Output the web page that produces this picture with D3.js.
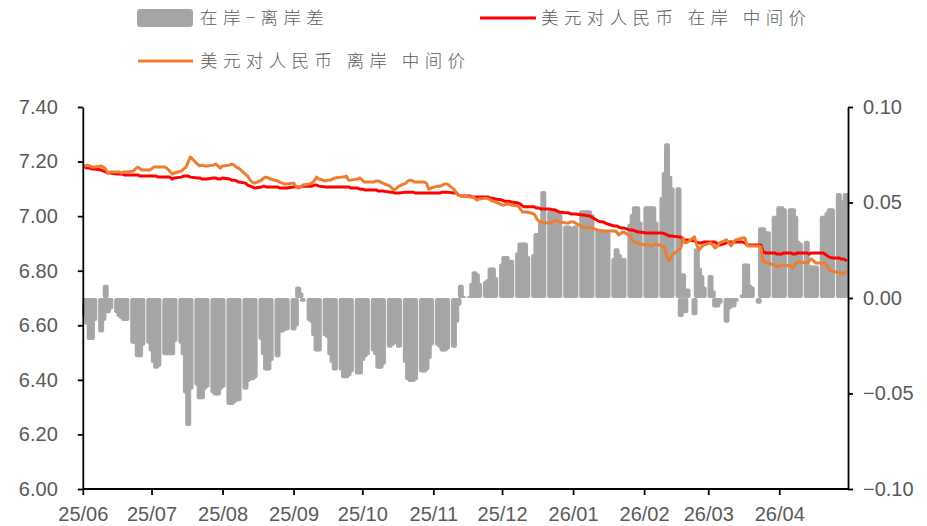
<!DOCTYPE html>
<html><head><meta charset="utf-8">
<script src="https://cdn.jsdelivr.net/npm/d3@7/dist/d3.min.js"></script>
<style>
html,body{margin:0;padding:0;background:#fff;}
svg{display:block;}
</style></head>
<body>
<svg id="chart" width="927" height="526"></svg>
<script>
// ---- DATA (trading days: weekdays 2025-06-02 .. 2026-04-30) ----
const firstDay = "2025-06-02";
const lastDay = "2026-04-30";

// 在岸−离岸差 (right axis)
const spread = [
 -0.010,-0.014,-0.022,-0.022,-0.012,
 -0.018,-0.012,0.007,-0.008,-0.006,
 -0.008,-0.010,-0.011,-0.012,-0.012,
 -0.024,-0.024,-0.031,-0.031,-0.025,
 -0.024,-0.028,-0.034,-0.037,-0.036,
 -0.030,-0.030,-0.030,-0.030,-0.023,
 -0.024,-0.030,-0.050,-0.067,-0.048,
 -0.046,-0.053,-0.053,-0.048,-0.047,
 -0.050,-0.051,-0.051,-0.048,-0.047,
 -0.056,-0.056,-0.055,-0.054,-0.054,
 -0.048,-0.044,-0.043,-0.043,-0.042,
 -0.022,-0.030,-0.038,-0.038,-0.033,
 -0.031,-0.018,-0.018,-0.017,-0.017,
 -0.017,-0.015,0.006,0.003,-0.002,
 -0.012,-0.013,-0.020,-0.028,-0.028,
 -0.020,-0.021,-0.030,-0.034,-0.038,
 -0.038,-0.042,-0.042,-0.041,-0.039,
 -0.040,-0.040,-0.033,-0.031,-0.030,
 -0.028,-0.030,-0.037,-0.037,-0.035,
 -0.026,-0.025,-0.021,-0.024,-0.026,
 -0.034,-0.043,-0.044,-0.044,-0.043,
 -0.039,-0.039,-0.038,-0.032,-0.025,
 -0.025,-0.026,-0.028,-0.028,-0.027,
 -0.026,-0.013,-0.004,0.007,0.001,
 0.001,0.008,0.014,0.013,0.008,
 0.009,0.010,0.016,0.016,0.011,
 0.018,0.022,0.022,0.020,0.020,
 0.024,0.029,0.029,0.029,0.022,
 0.023,0.034,0.034,0.040,0.056,
 0.046,0.046,0.046,0.045,0.045,
 0.038,0.038,0.037,0.037,0.038,
 0.046,0.046,0.046,0.046,0.044,
 0.036,0.036,0.036,0.035,0.035,
 0.021,0.026,0.023,0.021,0.021,
 0.039,0.044,0.048,0.048,0.040,
 0.048,0.048,0.048,0.048,0.040,
 0.053,0.066,0.081,0.064,0.058,
 0.058,-0.010,0.013,-0.008,0.005,
 -0.009,0.026,0.016,0.012,0.006,
 0.012,0.004,-0.005,-0.005,-0.003,
 -0.013,-0.006,-0.005,-0.005,-0.002,
 0.002,0.018,0.018,0.007,0.006,
 -0.003,0.037,0.037,0.035,0.035,
 0.043,0.043,0.048,0.048,0.047,
 0.047,0.047,0.043,0.030,0.029,
 0.030,0.017,0.017,0.017,0.017,
 0.043,0.043,0.045,0.047,0.047,
 0.055,0.051,0.051,0.055
];

// 美元对人民币 在岸 中间价 (left axis)
const onshore = [
 7.180,7.176,7.176,7.173,7.173,
 7.169,7.165,7.162,7.158,7.158,
 7.154,7.154,7.154,7.151,7.151,
 7.151,7.151,7.151,7.147,7.147,
 7.147,7.147,7.147,7.147,7.143,
 7.143,7.143,7.143,7.136,7.140,
 7.143,7.147,7.147,7.147,7.143,
 7.140,7.140,7.136,7.136,7.136,
 7.140,7.140,7.136,7.136,7.140,
 7.136,7.132,7.132,7.129,7.125,
 7.121,7.114,7.110,7.107,7.103,
 7.107,7.110,7.107,7.107,7.107,
 7.107,7.103,7.103,7.103,7.103,
 7.107,7.107,7.107,7.107,7.110,
 7.110,7.110,7.114,7.114,7.110,
 7.107,7.107,7.107,7.107,7.107,
 7.107,7.107,7.107,7.107,7.103,
 7.103,7.099,7.099,7.096,7.096,
 7.096,7.096,7.092,7.092,7.092,
 7.088,7.088,7.085,7.085,7.085,
 7.088,7.088,7.088,7.088,7.085,
 7.085,7.085,7.085,7.085,7.085,
 7.085,7.085,7.088,7.088,7.088,
 7.085,7.085,7.077,7.074,7.074,
 7.074,7.070,7.070,7.070,7.070,
 7.070,7.070,7.066,7.066,7.063,
 7.059,7.055,7.055,7.055,7.052,
 7.048,7.044,7.037,7.034,7.034,
 7.034,7.030,7.030,7.026,7.026,
 7.026,7.023,7.023,7.019,7.015,
 7.012,7.012,7.008,7.008,7.008,
 7.004,7.004,7.001,7.001,6.997,
 6.982,6.979,6.979,6.975,6.971,
 6.964,6.964,6.960,6.957,6.957,
 6.949,6.949,6.946,6.942,6.942,
 6.938,6.938,6.938,6.938,6.938,
 6.938,6.935,6.931,6.927,6.927,
 6.924,6.924,6.913,6.913,6.913,
 6.909,6.905,6.902,6.902,6.905,
 6.905,6.905,6.905,6.898,6.894,
 6.902,6.905,6.905,6.905,6.905,
 6.905,6.902,6.894,6.894,6.894,
 6.894,6.894,6.869,6.865,6.865,
 6.865,6.861,6.861,6.861,6.865,
 6.865,6.861,6.861,6.865,6.865,
 6.865,6.861,6.865,6.865,6.865,
 6.865,6.861,6.854,6.850,6.847,
 6.847,6.843,6.843,6.839
];

// 美元对人民币 离岸 中间价 (left axis)
const offshore = [
 7.184,7.187,7.184,7.180,7.180,
 7.184,7.180,7.173,7.158,7.162,
 7.162,7.162,7.158,7.162,7.162,
 7.165,7.173,7.180,7.173,7.169,
 7.169,7.173,7.180,7.180,7.180,
 7.180,7.173,7.165,7.154,7.158,
 7.165,7.173,7.180,7.198,7.217,
 7.191,7.184,7.187,7.184,7.184,
 7.187,7.191,7.184,7.176,7.184,
 7.187,7.191,7.187,7.180,7.176,
 7.154,7.147,7.132,7.125,7.121,
 7.132,7.140,7.143,7.140,7.136,
 7.129,7.125,7.121,7.118,7.118,
 7.121,7.110,7.103,7.107,7.114,
 7.118,7.121,7.129,7.143,7.136,
 7.129,7.132,7.132,7.136,7.140,
 7.143,7.143,7.147,7.132,7.132,
 7.136,7.140,7.132,7.125,7.125,
 7.125,7.129,7.129,7.125,7.121,
 7.110,7.103,7.096,7.103,7.110,
 7.121,7.129,7.132,7.129,7.125,
 7.125,7.125,7.121,7.099,7.103,
 7.110,7.110,7.114,7.118,7.118,
 7.099,7.085,7.077,7.074,7.074,
 7.070,7.070,7.066,7.059,7.063,
 7.066,7.063,7.059,7.055,7.052,
 7.041,7.041,7.044,7.044,7.041,
 7.037,7.026,7.015,7.015,7.015,
 7.008,6.993,6.982,6.979,6.975,
 6.975,6.979,6.982,6.986,6.979,
 6.975,6.975,6.979,6.979,6.975,
 6.960,6.957,6.960,6.957,6.957,
 6.949,6.946,6.946,6.946,6.946,
 6.946,6.942,6.931,6.938,6.942,
 6.927,6.909,6.905,6.902,6.898,
 6.894,6.894,6.891,6.894,6.898,
 6.891,6.883,6.847,6.839,6.854,
 6.876,6.883,6.920,6.902,6.905,
 6.924,6.894,6.876,6.887,6.894,
 6.902,6.894,6.883,6.891,6.902,
 6.913,6.902,6.891,6.905,6.913,
 6.920,6.920,6.891,6.891,6.891,
 6.891,6.887,6.832,6.832,6.828,
 6.821,6.814,6.817,6.821,6.821,
 6.817,6.810,6.825,6.832,6.832,
 6.828,6.836,6.843,6.836,6.828,
 6.828,6.828,6.814,6.803,6.799,
 6.792,6.792,6.788,6.795
];

const leftTicks = [6.00, 6.20, 6.40, 6.60, 6.80, 7.00, 7.20, 7.40];
const rightTicks = [-0.10, -0.05, 0.00, 0.05, 0.10];
const monthTicks = ["2025-06-01","2025-07-01","2025-08-01","2025-09-01","2025-10-01","2025-11-01","2025-12-01","2026-01-01","2026-02-01","2026-03-01","2026-04-01"];
const xDomain = ["2025-06-01","2026-05-01"];
const legendLabels = ["在岸−离岸差", "美元对人民币 在岸 中间价", "美元对人民币 离岸 中间价"];

// ---- BUILD ----
const parse = d3.utcParse("%Y-%m-%d");
const dates = d3.utcDay.range(parse(firstDay), d3.utcDay.offset(parse(lastDay), 1))
  .filter(d => d.getUTCDay() !== 0 && d.getUTCDay() !== 6);
const rows = dates.map((d, i) => ({date: d, spread: spread[i], on: onshore[i], off: offshore[i]}));

const svg = d3.select("#chart");
const L = 82.8, R = 848, T = 107, B = 489;

const x = d3.scaleUtc().domain(xDomain.map(parse)).range([L, R]);
const yL = d3.scaleLinear().domain([6, 7.4]).range([B, T]);
const yR = d3.scaleLinear().domain([-0.1, 0.1]).range([B, T]);

const axisFont = "'Liberation Sans Narrow','Liberation Sans','DejaVu Sans Condensed',sans-serif";
const txtColor = "#595959";

// bars
const bw = 6;
svg.append("g").selectAll("rect").data(rows).join("rect")
  .attr("x", d => x(d.date) - bw/2)
  .attr("width", bw)
  .attr("y", d => Math.min(yR(d.spread), yR(0)))
  .attr("height", d => Math.abs(yR(d.spread) - yR(0)))
  .attr("rx", 2).attr("ry", 2)
  .attr("fill", "#a6a6a6");

// lines
const lineOn = d3.line().x(d => x(d.date)).y(d => yL(d.on));
const lineOff = d3.line().x(d => x(d.date)).y(d => yL(d.off));
svg.append("path").datum(rows).attr("d", lineOn)
  .attr("fill", "none").attr("stroke", "#ff0000").attr("stroke-width", 3)
  .attr("stroke-linejoin", "round").attr("stroke-linecap", "round");
svg.append("path").datum(rows).attr("d", lineOff)
  .attr("fill", "none").attr("stroke", "#ed7d31").attr("stroke-width", 3)
  .attr("stroke-linejoin", "round").attr("stroke-linecap", "round");

// axes
function styleAxis(g) {
  g.selectAll(".domain").attr("stroke", "#000").attr("stroke-width", 1.8);
  g.selectAll(".tick line").attr("stroke", "#000").attr("stroke-width", 1.8);
  g.selectAll("text").attr("fill", txtColor).style("font-family", axisFont).style("font-size", "20px");
}
const gL = svg.append("g").attr("transform", `translate(${L},0)`)
  .call(d3.axisLeft(yL).tickValues(leftTicks).tickFormat(d3.format(".2f")).tickSize(5).tickSizeOuter(0).tickPadding(20));
styleAxis(gL);

const gR = svg.append("g").attr("transform", `translate(${R},0)`)
  .call(d3.axisRight(yR).tickValues(rightTicks).tickFormat(d => d3.format(".2f")(d).replace("-", "−")).tickSize(5).tickSizeOuter(0).tickPadding(10));
styleAxis(gR);

const gB = svg.append("g").attr("transform", `translate(0,${B})`)
  .call(d3.axisBottom(x).tickValues(monthTicks.map(parse)).tickFormat(d3.utcFormat("%y/%m")).tickSize(6).tickSizeOuter(0).tickPadding(12));
styleAxis(gB);
gB.select(".domain").attr("d", `M${L},0H${R}`);

// legend
const legFont = "'Noto Sans CJK SC','Noto Sans CJK JP',sans-serif";
const leg = svg.append("g");
leg.append("rect").attr("x", 137).attr("y", 9).attr("width", 56).attr("height", 18).attr("rx", 3).attr("fill", "#a6a6a6");
leg.append("text").attr("x", 200).attr("y", 18).attr("dy", "0.36em").text(legendLabels[0]);
leg.append("line").attr("x1", 480).attr("x2", 536).attr("y1", 18).attr("y2", 18).attr("stroke", "#ff0000").attr("stroke-width", 3);
leg.append("text").attr("x", 541).attr("y", 18).attr("dy", "0.36em").text(legendLabels[1]);
leg.append("line").attr("x1", 138).attr("x2", 193).attr("y1", 61).attr("y2", 61).attr("stroke", "#ed7d31").attr("stroke-width", 3);
leg.append("text").attr("x", 200).attr("y", 61).attr("dy", "0.36em").text(legendLabels[2]);
leg.selectAll("text").attr("fill", txtColor).style("font-family", legFont).style("font-size", "17.5px").style("letter-spacing", "5.4px").style("font-weight", 300);
</script>
</body></html>
